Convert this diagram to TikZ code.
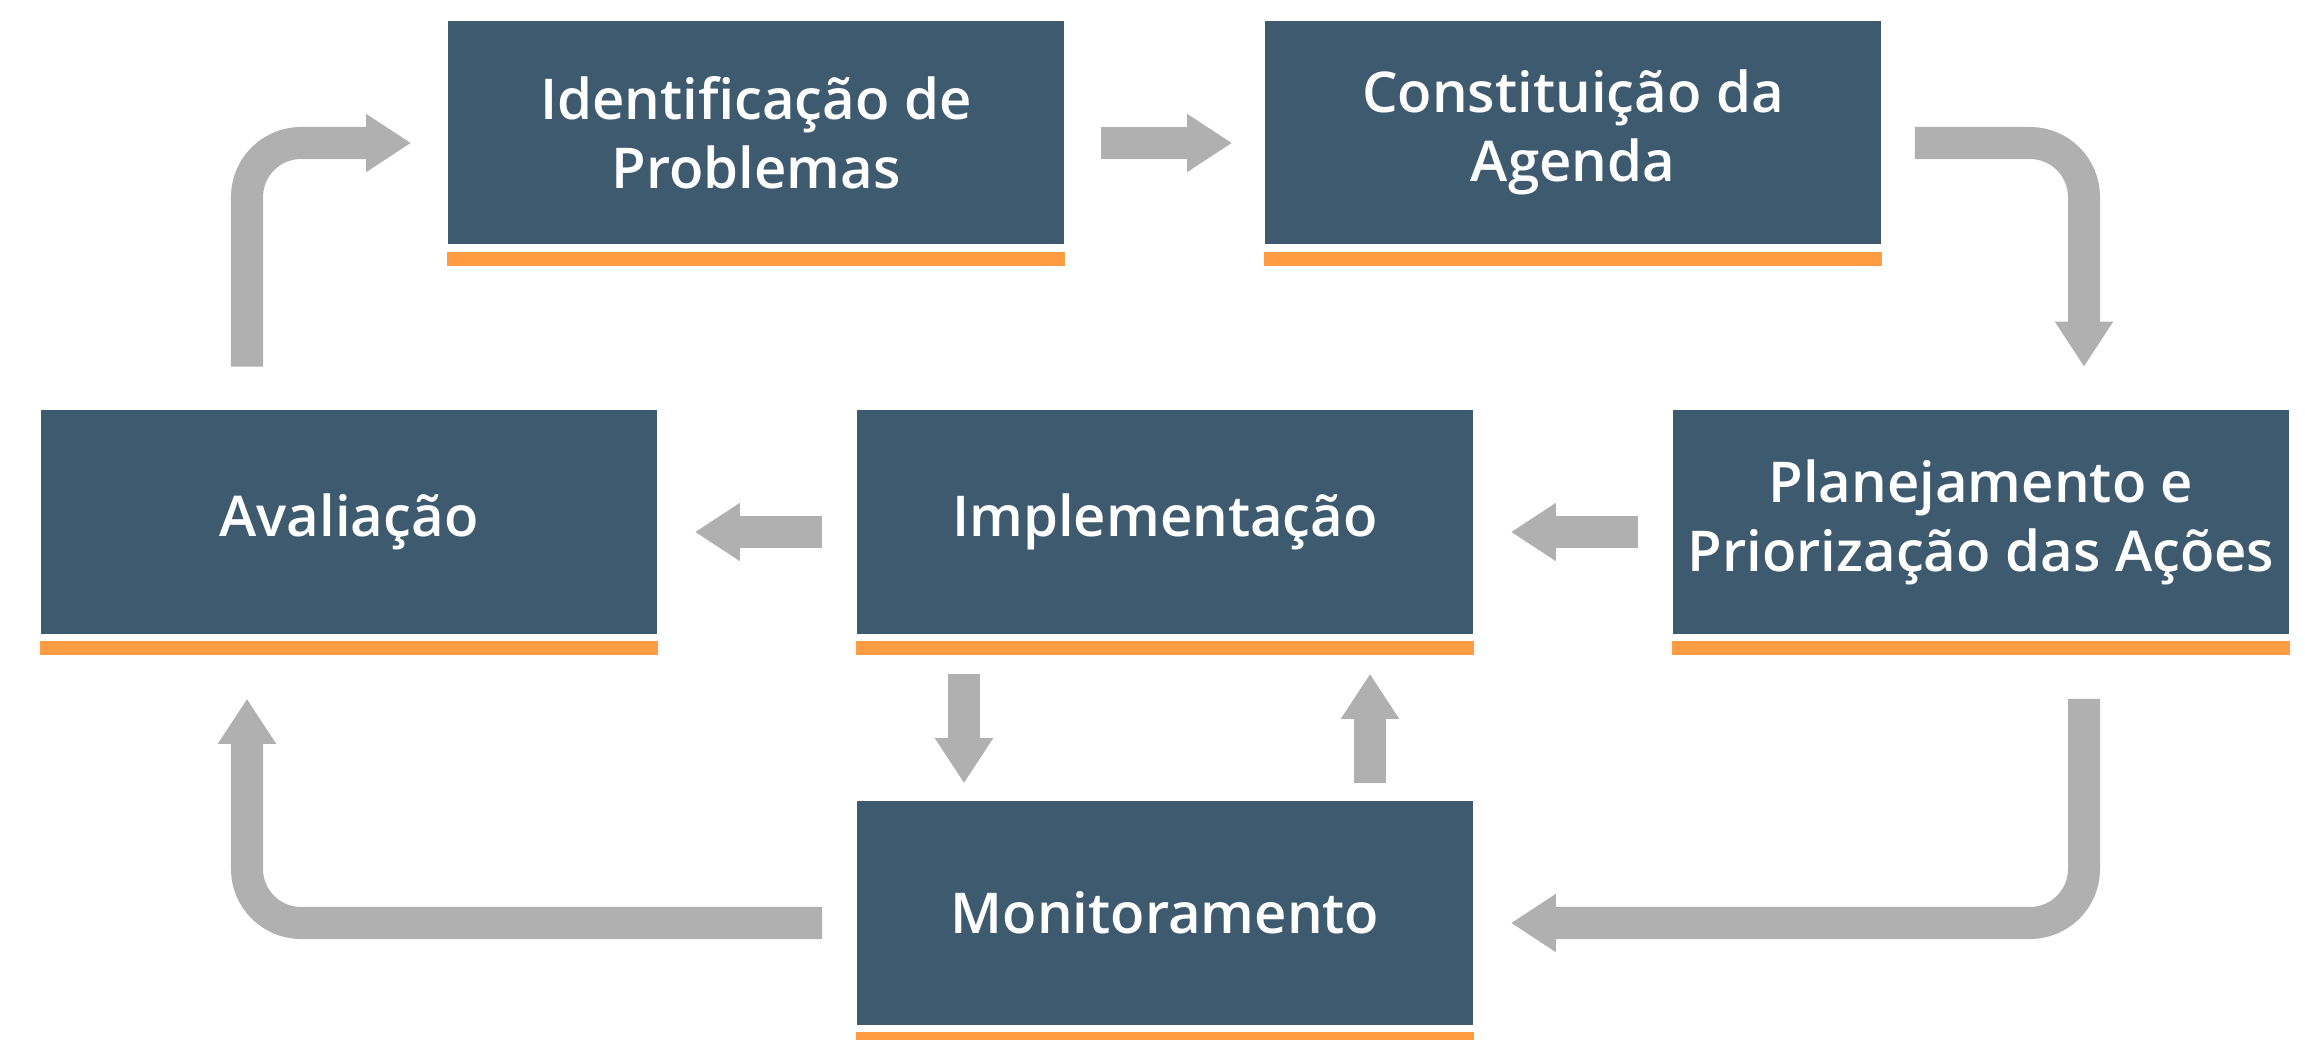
\documentclass[tikz,border=0pt]{standalone}
\usepackage{fontspec}
\setmainfont{Open Sans}[FontFace={sb}{n}{Font=* Semibold}]
\usetikzlibrary{arrows.meta,calc}
\definecolor{boxc}{HTML}{3D5A6E}
\definecolor{barc}{HTML}{FF9B42}
\definecolor{arrc}{HTML}{B0B0B0}
\begin{document}
\begin{tikzpicture}[x=0.01cm,y=-0.01cm,
  stage/.style={fill=boxc, minimum width=6.16cm, minimum height=2.23cm, inner sep=0pt,
    text=white, font=\fontsize{16}{19.6}\selectfont\fontseries{sb}\selectfont, align=center},
  flow/.style={draw=arrc, line width=0.32cm, rounded corners=0.54cm,
    -{Triangle[width=0.55cm,length=0.45cm]}}]
\fill[white] (0,0) rectangle (2305,1040);
\useasboundingbox (0,0) rectangle (2305,1040);
\node[stage] (ident) at (756,132.5) {Identificação de\\Problemas};
\node[stage] (const) at (1573,132.5) {Constituição da\\Agenda};
\node[stage] (plan) at (1981,522) {Planejamento e\\Priorização das Ações};
\node[stage] (impl) at (1165,522) {Implementação};
\node[stage] (aval) at (349,522) {Avaliação};
\node[stage] (moni) at (1165,913) {Monitoramento};
\foreach \n in {ident,const,plan,impl,aval,moni}
  \fill[barc] ([yshift=-0.07cm]\n.south west) rectangle ([yshift=-0.21cm]\n.south east);
\draw[flow] ($(ident.east)+(36,10.5)$) -- ($(const.west)+(-32,10.5)$);
\draw[flow] ($(const.east)+(33,10.5)$) -| ($(plan.north)+(103,-43)$);
\draw[flow] ($(plan.west)+(-34,10)$) -- ($(impl.east)+(37,10)$);
\draw[flow] ($(impl.west)+(-34,10)$) -- ($(aval.east)+(37,10)$);
\draw[flow] ($(impl.south)+(-201,39.5)$) -- ($(moni.north)+(-201,-17.5)$);
\draw[flow] ($(moni.north)+(205,-17.5)$) -- ($(impl.south)+(205,39.5)$);
\draw[flow] ($(plan.south)+(103,64.5)$) |- ($(moni.east)+(37,10)$);
\draw[flow] ($(moni.west)+(-34,10)$) -| ($(aval.south)+(-102,64.5)$);
\draw[flow] ($(aval.north)+(-102,-43)$) |- ($(ident.west)+(-36,10.5)$);
\end{tikzpicture}
\end{document}
